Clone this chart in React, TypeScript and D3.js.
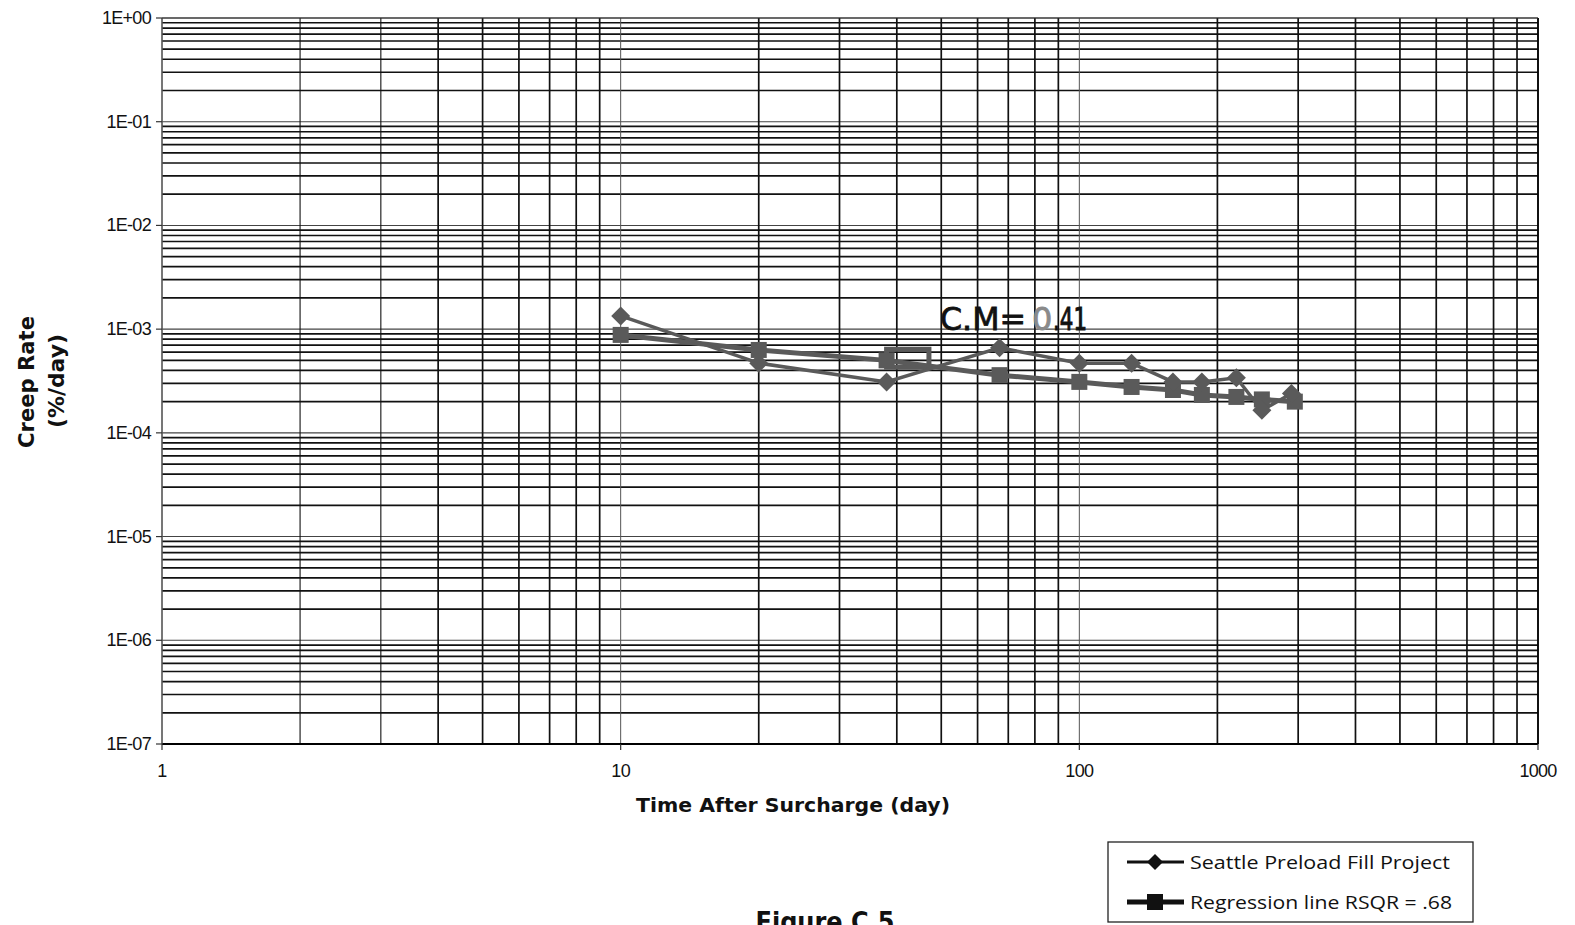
import React from "react";
import * as d3 from "d3";

const seattleT = [10, 20, 38, 67, 100, 130, 160, 185, 220, 250, 290];
const seattleV = [1.34e-3, 4.7e-4, 3.1e-4, 6.6e-4, 4.7e-4, 4.7e-4, 3.1e-4, 3.1e-4, 3.4e-4, 1.65e-4, 2.4e-4];
const regT = [10, 20, 38, 67, 100, 130, 160, 185, 220, 250, 295];
const regV = [8.8e-4, 6.3e-4, 5.0e-4, 3.6e-4, 3.1e-4, 2.77e-4, 2.59e-4, 2.32e-4, 2.22e-4, 2.1e-4, 2.0e-4];
const xTickLabels = ["1", "10", "100", "1000"];
const xTickValues = [1, 10, 100, 1000];
const yTickValues = [1, 1e-1, 1e-2, 1e-3, 1e-4, 1e-5, 1e-6, 1e-7];
const yTickLabels = ["1E+00", "1E-01", "1E-02", "1E-03", "1E-04", "1E-05", "1E-06", "1E-07"];
const boxT = [38, 47];
const boxV = [6.4e-4, 4.3e-4];

const W = 1575, H = 925;
const L = 162, R = 1538, T = 18, B = 744;
const GRAY = "#5a5a5a";

export default function App() {
  const x = d3.scaleLog().domain([1, 1000]).range([L, R]);
  const y = d3.scaleLog().domain([1e-7, 1]).range([B, T]);

  const minorX: number[] = [];
  for (let k = 0; k < 3; k++) for (let m = 2; m <= 9; m++) minorX.push(m * Math.pow(10, k));
  const minorY: number[] = [];
  for (let k = -7; k < 0; k++) for (let m = 2; m <= 9; m++) minorY.push(m * Math.pow(10, k));

  const line = d3.line<[number, number]>().x((d) => x(d[0])).y((d) => y(d[1]));
  const sData = seattleT.map((t, i) => [t, seattleV[i]] as [number, number]);
  const rData = regT.map((t, i) => [t, regV[i]] as [number, number]);

  const diamond = (cx: number, cy: number, r: number) =>
    `M${cx},${cy - r}L${cx + r},${cy}L${cx},${cy + r}L${cx - r},${cy}Z`;

  const tickFont = "'Liberation Sans', Arial, sans-serif";
  const titleFont = "'DejaVu Sans', 'Liberation Sans', sans-serif";
  const legendFont = "'Open Sans', 'DejaVu Sans', sans-serif";

  return (
    <svg width={W} height={H} style={{ position: "absolute", left: 0, top: 0, background: "#fff" }}>
      <rect x={0} y={0} width={W} height={H} fill="#fff" />
      {/* grid */}
      {minorY.map((v, i) => (
        <line key={"hy" + i} x1={L} x2={R} y1={y(v)} y2={y(v)} stroke="#111" strokeWidth={1.7} />
      ))}
      {yTickValues.map((v, i) => (
        <line key={"hM" + i} x1={L} x2={R} y1={y(v)} y2={y(v)} stroke="#444" strokeWidth={1.1} />
      ))}
      {minorX.map((v, i) => (
        <line key={"vx" + i} x1={x(v)} x2={x(v)} y1={T} y2={B} stroke="#111" strokeWidth={v < 10 && v <= 3 ? 1.1 : 1.7} />
      ))}
      {xTickValues.map((v, i) => (
        <line key={"vM" + i} x1={x(v)} x2={x(v)} y1={T} y2={B} stroke="#555" strokeWidth={1} />
      ))}
      {/* axes */}
      <line x1={L} x2={R} y1={B} y2={B} stroke="#000" strokeWidth={1.8} />
      <line x1={L} x2={L} y1={T} y2={B} stroke="#555" strokeWidth={1.2} />
      <line x1={R} x2={R} y1={T} y2={B} stroke="#000" strokeWidth={1.8} />
      <line x1={L} x2={R} y1={T} y2={T} stroke="#333" strokeWidth={1.2} />
      {yTickValues.map((v, i) => (
        <line key={"yt" + i} x1={L - 6} x2={L} y1={y(v)} y2={y(v)} stroke="#333" strokeWidth={1.2} />
      ))}
      {xTickValues.map((v, i) => (
        <line key={"xt" + i} x1={x(v)} x2={x(v)} y1={B} y2={B + 6} stroke="#333" strokeWidth={1.2} />
      ))}
      {/* tick labels */}
      {yTickValues.map((v, i) => (
        <text key={"yl" + i} x={L - 11} y={y(v) + 6} textAnchor="end" fontFamily={tickFont} fontSize={18} letterSpacing={-0.7} fill="#111">
          {yTickLabels[i]}
        </text>
      ))}
      {xTickValues.map((v, i) => (
        <text key={"xl" + i} x={x(v)} y={B + 33} textAnchor="middle" fontFamily={tickFont} fontSize={18} letterSpacing={-0.7} fill="#111">
          {xTickLabels[i]}
        </text>
      ))}
      {/* axis titles */}
      <text x={793} y={812} textAnchor="middle" fontFamily={titleFont} fontWeight="bold" fontSize={20} textLength={314} lengthAdjust="spacingAndGlyphs" fill="#111">
        Time After Surcharge (day)
      </text>
      <text transform="translate(34,382) rotate(-90)" textAnchor="middle" fontFamily={titleFont} fontWeight="bold" fontSize={21} textLength={132} lengthAdjust="spacingAndGlyphs" fill="#111">
        Creep Rate
      </text>
      <text transform="translate(64,381) rotate(-90)" textAnchor="middle" fontFamily={titleFont} fontWeight="bold" fontSize={21} textLength={94} lengthAdjust="spacingAndGlyphs" fill="#111">
        (%/day)
      </text>
      {/* annotation box */}
      <rect x={x(boxT[0])} y={y(boxV[0])} width={x(boxT[1]) - x(boxT[0])} height={y(boxV[1]) - y(boxV[0])} fill="none" stroke={GRAY} strokeWidth={5} />
      {/* series */}
      <path d={line(rData) || ""} fill="none" stroke={GRAY} strokeWidth={5} />
      <path d={line(sData) || ""} fill="none" stroke={GRAY} strokeWidth={3.5} />
      {rData.map((d, i) => (
        <rect key={"rs" + i} x={x(d[0]) - 8} y={y(d[1]) - 8} width={16} height={16} fill={GRAY} />
      ))}
      {sData.map((d, i) => (
        <path key={"sd" + i} d={diamond(x(d[0]), y(d[1]), 9.5)} fill={GRAY} />
      ))}
      {/* handwritten note */}
      <text x={940} y={330} fontFamily={titleFont} fontSize={32} textLength={86} lengthAdjust="spacingAndGlyphs" fill="#111" stroke="#111" strokeWidth={0.8}>
        C.M=
      </text>
      <text x={1032} y={330} fontFamily={titleFont} fontSize={32} fill="#8a8a8a" stroke="#8a8a8a" strokeWidth={0.8}>
        0
      </text>
      <text x={1053} y={330} fontFamily={titleFont} fontSize={32} textLength={34} lengthAdjust="spacingAndGlyphs" fill="#111" stroke="#111" strokeWidth={1}>
        .41
      </text>
      {/* legend */}
      <rect x={1108} y={842} width={365} height={80} fill="#fff" stroke="#222" strokeWidth={1.3} />
      <line x1={1127} x2={1184} y1={862} y2={862} stroke="#111" strokeWidth={3} />
      <path d={diamond(1155, 862, 8)} fill="#111" />
      <text x={1190} y={869} fontFamily={legendFont} fontSize={19} textLength={260} lengthAdjust="spacingAndGlyphs" fill="#111">
        Seattle Preload Fill Project
      </text>
      <line x1={1127} x2={1184} y1={902} y2={902} stroke="#111" strokeWidth={5} />
      <rect x={1147} y={894} width={16} height={16} fill="#111" />
      <text x={1190} y={909} fontFamily={legendFont} fontSize={19} textLength={262} lengthAdjust="spacingAndGlyphs" fill="#111">
        Regression line RSQR = .68
      </text>
      {/* figure caption (cut off at the bottom edge, as in the source) */}
      <text x={825} y={931} textAnchor="middle" fontFamily={titleFont} fontWeight="bold" fontSize={26} textLength={139} lengthAdjust="spacingAndGlyphs" fill="#111">
        Figure C.5
      </text>
    </svg>
  );
}
